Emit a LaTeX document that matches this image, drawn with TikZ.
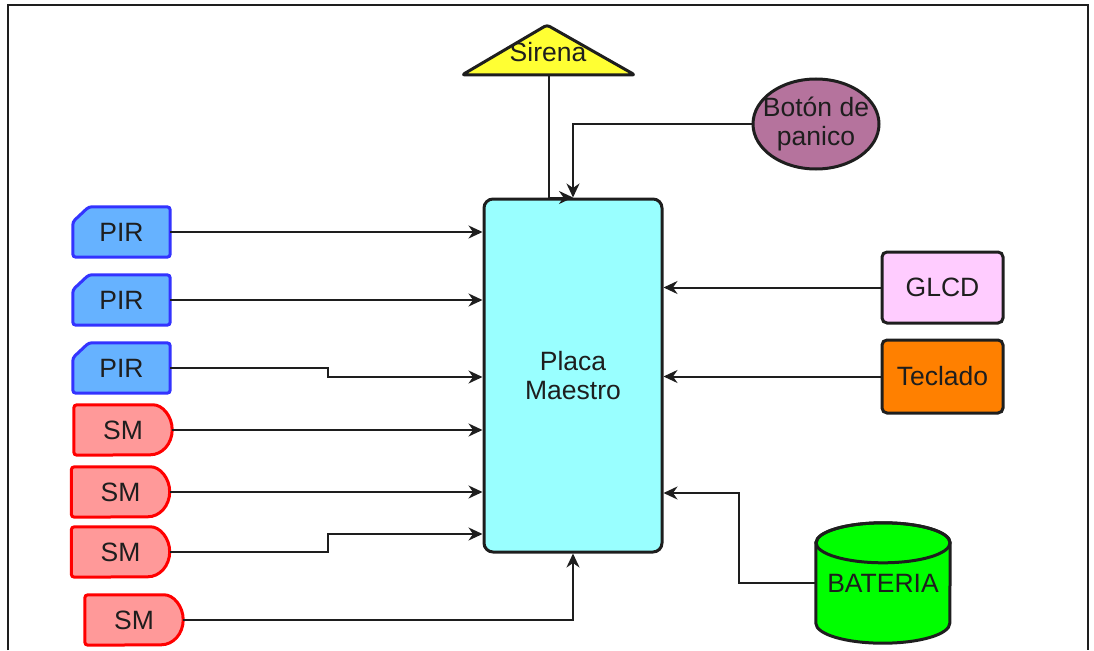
\documentclass[tikz,border=0pt]{standalone}
\usepackage{fontspec}
\setmainfont{Liberation Sans}
\usetikzlibrary{arrows.meta}
\pgfdeclarelayer{background}
\pgfsetlayers{background,main}
\definecolor{mainfill}{HTML}{99FFFF}
\definecolor{sirenfill}{HTML}{FFFF33}
\definecolor{botonfill}{HTML}{B5739D}
\definecolor{pirfill}{HTML}{66B2FF}
\definecolor{pirdraw}{HTML}{3333FF}
\definecolor{smfill}{HTML}{FF9999}
\definecolor{smdraw}{HTML}{FF0000}
\definecolor{glcdfill}{HTML}{FFCCFF}
\definecolor{tecfill}{HTML}{FF8000}
\definecolor{batfill}{HTML}{00FF00}
\definecolor{ink}{HTML}{1E1E1E}
\newcommand\pirdrawshape[1]{\draw[pirline] ([xshift=16pt]#1.north west) -- (#1.north east) -- (#1.south east) -- (#1.south west) -- ([yshift=-15pt]#1.north west) -- cycle;}
\newcommand\smdrawshape[1]{\draw[smline] (#1.south west) [rounded corners=3pt] -- (#1.north west) -- ([xshift=-22pt]#1.north east) [sharp corners] arc[start angle=90, end angle=-90, x radius=22pt, y radius=25pt] [rounded corners=3pt] -- cycle;}
\begin{document}
\begin{tikzpicture}[x=1pt,y=1pt,
  font=\fontsize{26.5}{29}\selectfont,
  conn/.style={draw=ink, line width=2pt, -{Stealth[length=14pt,width=13pt,inset=4.5pt]}},
  lbl/.style={draw=none, inner sep=0pt, align=center, text=ink},
  pirline/.style={draw=pirdraw, fill=pirfill, line width=3pt, rounded corners=3pt},
  smline/.style={draw=smdraw, fill=smfill, line width=3pt},
  blackbox/.style={draw=ink, line width=3pt, rounded corners=5pt, inner sep=0pt, text=ink, align=center},
  pirnode/.style={lbl, minimum width=97pt, minimum height=50pt},
  smnode/.style={lbl, minimum width=98pt, minimum height=50pt}]
\useasboundingbox (0,0) rectangle (1094,-650);
\draw[line width=2pt, ink] (8,-650) -- (8,-5) -- (1088,-5) -- (1088,-650);

% main board
\node[blackbox, fill=mainfill, rounded corners=9pt, minimum width=178pt, minimum height=353pt] (main) at (573,-375.5) {Placa\\Maestro};

% siren
\node[lbl] (sirena) at (548,-52) {Sirena};
\coordinate (sirbase) at (549,-75);
\begin{pgfonlayer}{background}
\draw[draw=ink, fill=sirenfill, line width=3pt, rounded corners=3pt, line join=round] (462,-75) -- (547,-25) -- (635,-75) -- cycle;
\end{pgfonlayer}

% panic button
\node[lbl, minimum width=126pt, minimum height=90pt] (boton) at (816,-124) {Botón de\\panico};
\begin{pgfonlayer}{background}
\draw[draw=ink, fill=botonfill, line width=3pt] (boton.center) ellipse[x radius=63pt, y radius=45pt];
\end{pgfonlayer}

% PIR sensors
\node[pirnode] (pir1) at (121.5,-232) {PIR};
\node[pirnode] (pir2) at (121.5,-300) {PIR};
\node[pirnode] (pir3) at (121.5,-368) {PIR};
% SM sensors
\node[smnode] (sm1) at (123,-430) {SM};
\node[smnode] (sm2) at (120.5,-492) {SM};
\node[smnode] (sm3) at (120.5,-552) {SM};
\node[smnode] (sm4) at (134,-620) {SM};
\begin{pgfonlayer}{background}
\pirdrawshape{pir1}
\pirdrawshape{pir2}
\pirdrawshape{pir3}
\smdrawshape{sm1}
\smdrawshape{sm2}
\smdrawshape{sm3}
\smdrawshape{sm4}
\end{pgfonlayer}

% right side
\node[blackbox, fill=glcdfill, minimum width=121pt, minimum height=71pt] (glcd) at (942.5,-287.5) {GLCD};
\node[blackbox, fill=tecfill, minimum width=121pt, minimum height=73pt] (teclado) at (942.5,-376.5) {Teclado};
\node[lbl, minimum width=134pt, minimum height=120pt] (bat) at (883,-583) {\raisebox{-2pt}{BATERIA}};
\begin{pgfonlayer}{background}
\draw[draw=ink, fill=batfill, line width=3pt] ([yshift=-20pt]bat.north west) -- ([yshift=20pt]bat.south west) arc[start angle=180, end angle=360, x radius=67pt, y radius=20pt] -- ([yshift=-20pt]bat.north east) arc[start angle=0, end angle=180, x radius=67pt, y radius=20pt] -- cycle;
\draw[draw=ink, line width=3pt] ([yshift=-20pt]bat.north) ellipse[x radius=67pt, y radius=20pt];
\end{pgfonlayer}

% connectors
\draw[conn] (sirbase) |- (main.north);
\draw[conn] (boton.west) -| (main.north);
\draw[conn] (pir1.east) -- (main.west |- pir1.east);
\draw[conn] (pir2.east) -- (main.west |- pir2.east);
\draw[conn] (pir3.east) -- (328,-368) -- (328,-377) -- (main.west |- 0,-377);
\draw[conn] (sm1.east) -- (main.west |- sm1.east);
\draw[conn] (sm2.east) -- (main.west |- sm2.east);
\draw[conn] (sm3.east) -- (328,-552) -- (328,-534) -- (main.west |- 0,-534);
\draw[conn] (sm4.east) -| (main.south);
\draw[conn] (glcd.west) -- (main.east |- glcd.west);
\draw[conn] (teclado.west) -- (main.east |- teclado.west);
\draw[conn] (bat.west) -| (739,-493) -- (main.east |- 0,-493);
\end{tikzpicture}
\end{document}
